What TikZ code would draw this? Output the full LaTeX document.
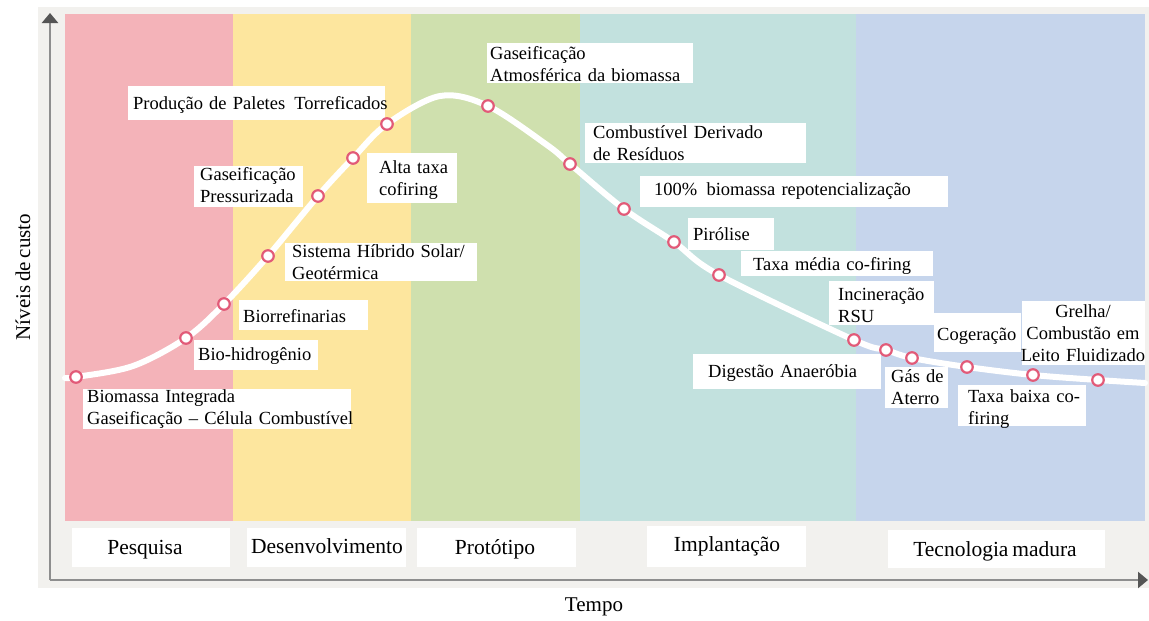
\documentclass[tikz,border=0pt]{standalone}
\usepackage{fontspec}
\setmainfont[WordSpace={0.7}]{Liberation Serif}
\usetikzlibrary{arrows.meta}

\definecolor{panelgray}{HTML}{F2F1EE}
\definecolor{bandpink}{HTML}{F4B3B9}
\definecolor{bandyellow}{HTML}{FDE69E}
\definecolor{bandgreen}{HTML}{CFE0AE}
\definecolor{bandteal}{HTML}{C2E1DE}
\definecolor{bandblue}{HTML}{C6D5EC}
\definecolor{dotred}{HTML}{E25A78}
\definecolor{axisgray}{HTML}{8E8E8E}
\definecolor{tipgray}{HTML}{555555}

\tikzset{
  wbox/.style={fill=white},
  lbl/.style={font=\fontsize{18.5}{22.2}\selectfont, inner sep=0pt, anchor=base west,
              text width=320pt, align=left},
  stage/.style={font=\fontsize{21.5}{26}\selectfont, inner sep=0pt, anchor=base},
  axislabel/.style={font=\fontsize{21}{25}\selectfont, inner sep=0pt},
  dot/.style={circle, draw=dotred, line width=2.2pt, fill=white,
              minimum size=11.5pt, inner sep=0pt},
  curve/.style={draw=white, line width=6pt, line cap=round},
  axis/.style={draw=axisgray, line width=2.4pt,
               -{Triangle[length=10pt,width=16pt,color=tipgray]}}
}

\begin{document}
\begin{tikzpicture}[x=1pt,y=-1pt]
\useasboundingbox (0,0) rectangle (1149,621);

% background panel and the five stage bands
\fill[panelgray] (38,7) rectangle (1149,588);
\fill[bandpink]   (65,14)  rectangle (233,521);
\fill[bandyellow] (233,14) rectangle (411,521);
\fill[bandgreen]  (411,14) rectangle (580,521);
\fill[bandteal]   (580,14) rectangle (856,521);
\fill[bandblue]   (856,14) rectangle (1145,521);

% axes
\coordinate (O) at (50,580);
\coordinate (ytop) at (50,13);
\coordinate (xend) at (1148,580);
\draw[axis] (O) -- (ytop);
\draw[axis] (O) -- (xend);
\node[axislabel, rotate=90] (ylab) at (23,277) {Níveis de custo};
\node[axislabel] (xlab) at (594,607) {Tempo};

% cost curve
\draw[curve] plot[smooth, tension=0.55] coordinates {
  (65,378) (76,377) (133,366) (186,338) (224,304) (268,256) (318,196)
  (353,158) (387,124) (440,96) (488,106) (547,145) (570,164) (624,209)
  (674,242) (719,275) (854,340) (886,350) (912,358) (967,367)
  (1033,375) (1098,380) (1145,383)};

% label boxes
\fill[wbox] (83,389) rectangle (351,429);
\fill[wbox] (194,340) rectangle (318,370);
\fill[wbox] (239,300) rectangle (368,330);
\fill[wbox] (285,243) rectangle (477,281);
\fill[wbox] (194,166) rectangle (303,207);
\fill[wbox] (367,153) rectangle (457,203);
\fill[wbox] (128,86) rectangle (385,120);
\fill[wbox] (487,43) rectangle (693,83);
\fill[wbox] (585,123) rectangle (806,163);
\fill[wbox] (640,176) rectangle (948,207);
\fill[wbox] (688,218) rectangle (774,250);
\fill[wbox] (741,251) rectangle (933,276);
\fill[wbox] (829,281) rectangle (934,325);
\fill[wbox] (934,313) rectangle (1021,352);
\fill[wbox] (1022,301) rectangle (1145,365);
\fill[wbox] (693,354) rectangle (881,389);
\fill[wbox] (885,367) rectangle (948,408);
\fill[wbox] (958,385) rectangle (1086,426);

% label texts
\node[lbl] (tBig)  at (87,402)  {Biomassa Integrada\\Gaseificação – Célula Combustível};
\node[lbl] (tBioh) at (198,360) {Bio-hidrogênio};
\node[lbl] (tBior) at (243,322) {Biorrefinarias};
\node[lbl] (tSist) at (292,257) {Sistema Híbrido Solar/\\Geotérmica};
\node[lbl] (tGasp) at (200,180) {Gaseificação\\Pressurizada};
\node[lbl] (tAlta) at (379,173) {Alta taxa\\cofiring};
\node[lbl] (tProd) at (133,109) {Produção de Paletes\hspace{3pt} Torreficados};
\node[lbl] (tGasa) at (490,59)  {Gaseificação\\Atmosférica da biomassa};
\node[lbl] (tComb) at (593,138) {Combustível Derivado\\de Resíduos};
\node[lbl] (tCem)  at (654,195) {100\%\hspace{3pt} biomassa repotencialização};
\node[lbl] (tPiro) at (693,240) {Pirólise};
\node[lbl] (tTmed) at (753,270) {Taxa média co-firing};
\node[lbl] (tInci) at (838,300) {Incineração\\RSU};
\node[lbl] (tCoge) at (937,340) {Cogeração};
\node[lbl, anchor=base, text width=130pt, align=center] (tGrel) at (1083,317)
  {Grelha/\\Combustão em\\Leito Fluidizado};
\node[lbl] (tDige) at (708,377) {Digestão Anaeróbia};
\node[lbl] (tGas)  at (891,382) {Gás de\\Aterro};
\node[lbl] (tTbai) at (968,402) {Taxa baixa co-\\firing};

% markers on the curve
\foreach \p [count=\i] in {(76,377),(186,338),(224,304),(268,256),(318,196),
    (353,158),(387,124),(488,106),(570,164),(624,209),(674,242),(719,275),
    (854,340),(886,350),(912,358),(967,367),(1033,375),(1098,380)}
  \node[dot] (d\i) at \p {};

% stage boxes along the time axis
\fill[wbox] (72,528) rectangle (230,567);
\fill[wbox] (247,528) rectangle (406,567);
\fill[wbox] (417,528) rectangle (576,567);
\fill[wbox] (647,526) rectangle (806,567);
\fill[wbox] (888,530) rectangle (1105,568);
\node[stage] (sPes) at (145,554) {Pesquisa};
\node[stage] (sDes) at (327,553) {Desenvolvimento};
\node[stage] (sPro) at (495,554) {Protótipo};
\node[stage] (sImp) at (727,551) {Implantação};
\node[stage] (sTec) at (995,556) {Tecnologia madura};
\end{tikzpicture}
\end{document}
